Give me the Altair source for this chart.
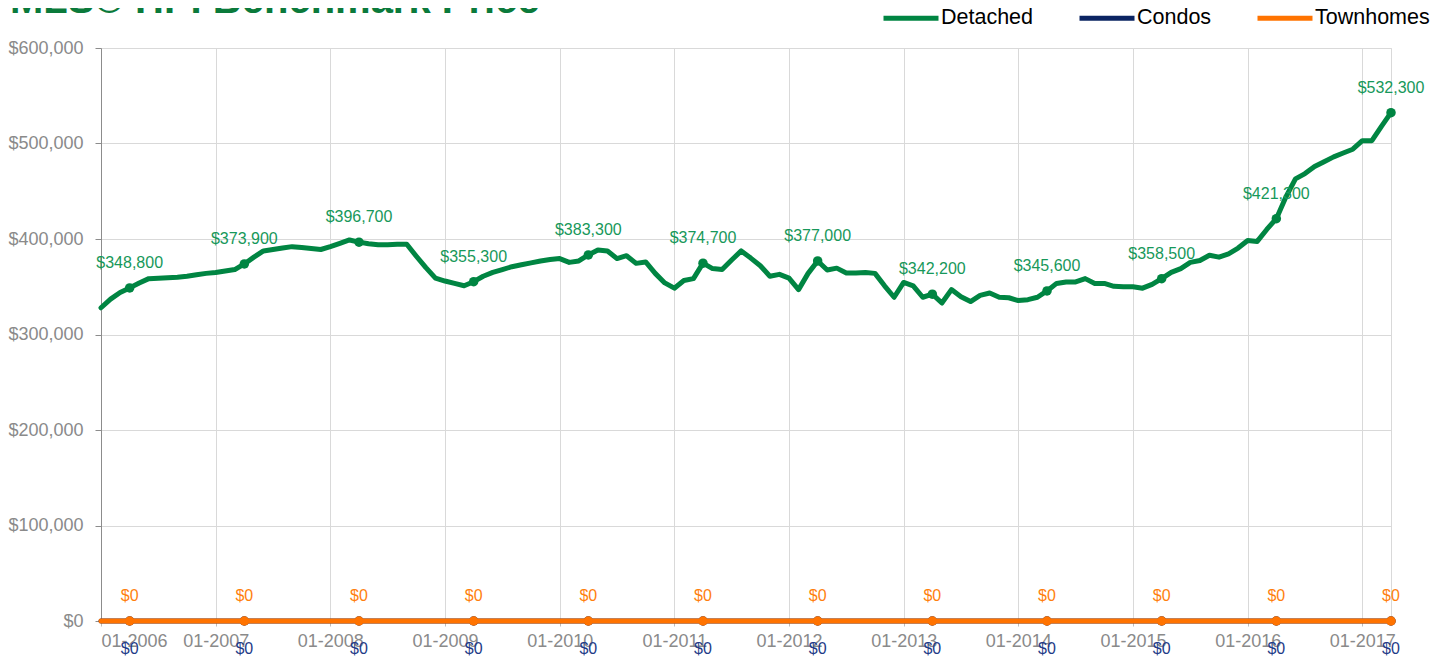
import altair as alt
import pandas as pd

# ---- data ----
months = pd.date_range("2006-01-01", "2017-04-01", freq="MS").strftime("%m-%Y").tolist()

detached = [
    328000, 337000, 344000, 348800, 354000, 358500, 359000, 359500, 360000, 361000,
    362500, 364000, 365000, 366500, 368000, 373900, 381000, 387500, 389000, 390500,
    392000, 391000, 390000, 389000, 392000, 395500, 399000, 396700, 395000, 394000,
    394000, 394500, 394500, 382000, 370000, 359000, 356000, 353500, 351000, 355300,
    361000, 365000, 368000, 371000, 373000, 375000, 377000, 378500, 379500, 375500,
    377000, 383300, 388500, 387500, 379500, 382500, 374500, 376000, 364000, 354000,
    348500, 356500, 358500, 374700, 369000, 368000, 378000, 387500, 380000, 372000,
    361000, 363000, 359000, 347000, 364000, 377000, 367500, 369500, 364500, 364500,
    365000, 364000, 351000, 339000, 354500, 351000, 339000, 342200, 333000, 347000,
    339500, 334500, 341000, 343500, 339000, 338500, 335500, 336500, 339000, 345600,
    353500, 355000, 355000, 358500, 353500, 353500, 350500, 350000, 350000, 348500,
    352500, 358500, 365000, 369000, 375500, 377500, 383000, 381000, 384500, 390500,
    398500, 397500, 410000, 421300, 444000, 463000, 468500, 476000, 481000, 486000,
    490000, 494000, 503000, 503000, 518000, 532300,
]
condos = [0] * len(months)
townhomes = [0] * len(months)

labelled_months = ["04-2006", "04-2007", "04-2008", "04-2009", "04-2010", "04-2011",
                   "04-2012", "04-2013", "04-2014", "04-2015", "04-2016", "04-2017"]
year_ticks = ["01-2006", "01-2007", "01-2008", "01-2009", "01-2010", "01-2011",
              "01-2012", "01-2013", "01-2014", "01-2015", "01-2016", "01-2017"]

series_names = ["Detached", "Condos", "Townhomes"]
line_colors = ["#008542", "#0B2462", "#FF7300"]
label_colors = ["#17985A", "#1F3C88", "#FF7F0E"]
label_dy = [-25, 28, -25]

TITLE = "MLS® HPI Benchmark Price"
FONT = "Liberation Sans"

rows = []
for name, vals in zip(series_names, [detached, condos, townhomes]):
    for i, (m, v) in enumerate(zip(months, vals)):
        rows.append({"idx": i, "month": m, "series": name, "value": v,
                     "marked": m in labelled_months,
                     "label": "${:,.0f}".format(v)})
df = pd.DataFrame(rows)

tick_idx = [months.index(t) for t in year_ticks]
label_expr = "'01-' + (2006 + floor(datum.value / 12))"

x_enc = alt.X("idx:Q",
              scale=alt.Scale(domain=[0, len(months) - 1], nice=False, zero=False),
              axis=alt.Axis(values=tick_idx, labelExpr=label_expr, title=None,
                            grid=True, gridColor="#d9d9d9", gridWidth=1,
                            domain=True, domainColor="#d9d9d9",
                            ticks=True, tickSize=5, tickColor="#bdbdbd",
                            labelFont=FONT, labelFontSize=18, labelColor="#8a8a8a",
                            labelPadding=6))
y_enc = alt.Y("value:Q",
              scale=alt.Scale(domain=[0, 600000], nice=False),
              axis=alt.Axis(values=[0, 100000, 200000, 300000, 400000, 500000, 600000],
                            format="$,.0f", title=None,
                            grid=True, gridColor="#d9d9d9", gridWidth=1,
                            domain=True, domainColor="#8c8c8c",
                            ticks=True, tickSize=6, tickColor="#8c8c8c",
                            labelFont=FONT, labelFontSize=18, labelColor="#8a8a8a",
                            labelPadding=12))

color_scale = alt.Scale(domain=series_names, range=line_colors)
legend = alt.Legend(orient="none", legendX=780, legendY=-60, direction="horizontal",
                    title=None, symbolType="stroke", symbolSize=3025,
                    symbolStrokeWidth=5, labelFont=FONT, labelFontSize=21.5,
                    labelColor="#000000", columnPadding=35, labelOffset=0)

layers = []
for name, lc, tc, dy in zip(series_names, line_colors, label_colors, label_dy):
    base = alt.Chart(df).transform_filter(alt.datum.series == name)
    line = base.mark_line(strokeWidth=5, strokeCap="round", strokeJoin="round").encode(
        x=x_enc, y=y_enc,
        color=alt.Color("series:N", scale=color_scale, legend=legend))
    pts = base.transform_filter(alt.datum.marked).mark_circle(size=90, opacity=1).encode(
        x="idx:Q", y="value:Q", color=alt.value(lc))
    txt = base.transform_filter(alt.datum.marked).mark_text(
        dy=dy, font=FONT, fontSize=16, align="center", baseline="middle").encode(
        x="idx:Q", y="value:Q", text="label:N", color=alt.value(tc))
    layers += [line, pts, txt]

# chart title, cropped at the top edge as in the reference
title = alt.Chart(pd.DataFrame({"t": [TITLE]})).mark_text(
    align="left", baseline="alphabetic", font=FONT, fontSize=40, fontWeight="bold",
    color="#0B7A3B").encode(x=alt.value(-91), y=alt.value(-35), text="t:N")
layers.append(title)

chart = alt.layer(*layers).properties(
    width=1290, height=573,
    autosize=alt.AutoSizeParams(type="none"),
    padding={"left": 93, "top": 40, "right": 49, "bottom": 39},
).configure_view(stroke="#d9d9d9", strokeWidth=1)

chart.save("out.html", embed_options={"renderer": "svg", "actions": False})
